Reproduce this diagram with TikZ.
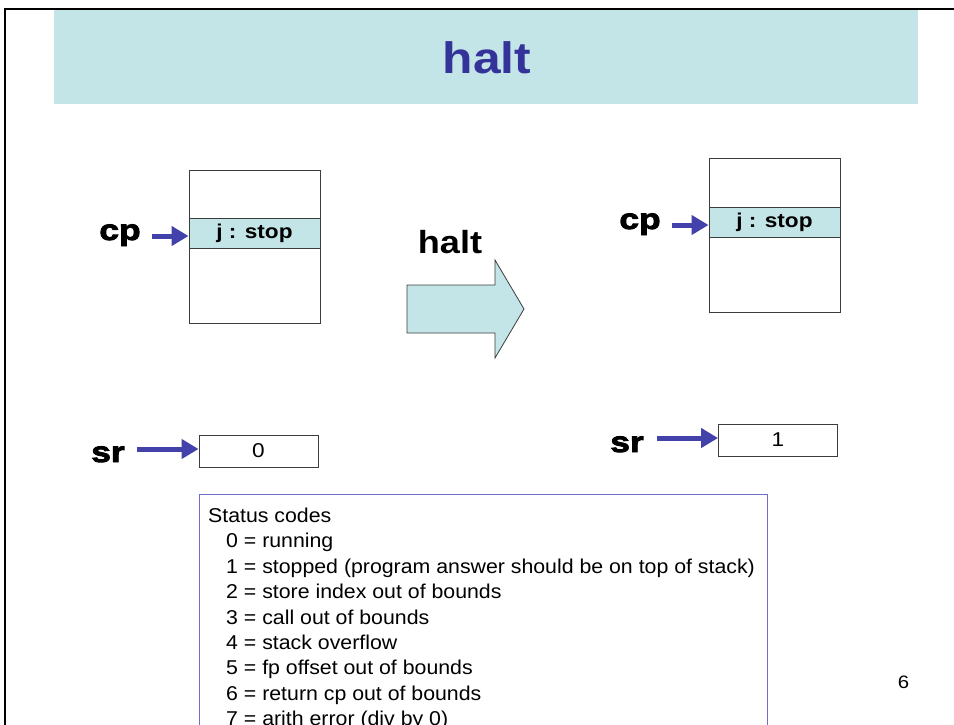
\documentclass[tikz,border=0pt]{standalone}
\usepackage{fontspec}
\setmainfont[FakeStretch=1.13]{Liberation Sans}
\newfontfamily\heavyfont[FakeBold=3, FakeStretch=1.22]{Liberation Sans Bold}
\newfontfamily\codefont[FakeStretch=1.065]{Liberation Sans}
\usetikzlibrary{arrows.meta}

\definecolor{paleteal}{RGB}{196,229,232}
\definecolor{titleblue}{RGB}{51,51,153}
\definecolor{ptrblue}{RGB}{66,66,170}
\definecolor{boxline}{RGB}{110,110,200}
\definecolor{cellgray}{RGB}{60,60,60}

\tikzset{
  cellline/.style={draw=cellgray, line width=0.9pt},
  rowcell/.style={cellline, fill=paleteal, minimum width=131pt, minimum height=30pt,
    inner sep=0pt, font=\fontsize{20}{24}\selectfont\bfseries},
  regbox/.style={cellline, fill=white, minimum width=119pt, minimum height=32pt,
    inner sep=0pt, font=\fontsize{20}{24}\selectfont},
  reglabel/.style={inner sep=0pt, anchor=base, font=\fontsize{29}{34}\selectfont\heavyfont},
  ptr/.style={draw=ptrblue, line width=5pt, -{Triangle[length=17pt,width=19pt]}},
  blockarrow/.style={draw=cellgray, line width=0.8pt, fill=paleteal},
  codeline/.style={anchor=base west, inner sep=0pt, font=\fontsize{20}{24}\selectfont\codefont},
}

\begin{document}
\begin{tikzpicture}[x=1pt,y=-1pt]
  \useasboundingbox (0,0) rectangle (954,724);
  \clip (0,0) rectangle (954,724);

  % slide frame
  \draw[line width=2pt] (5,730) -- (5,9) -- (960,9);

  % title banner
  \fill[paleteal] (54,10) rectangle (918,104);
  \node[anchor=base, inner sep=0pt, text=titleblue,
        font=\fontsize{44}{50}\selectfont\bfseries] (title) at (487,73) {halt};

  % ---- state before ----
  \draw[cellline] (189,170) rectangle (320,323);
  \node[rowcell] (lrow) at (254.5,233) {j : stop};
  \node[reglabel] (lcp) at (120,240) {cp};
  \path (lrow.west) ++(-37,3) coordinate (lcpa);
  \draw[ptr] (lcpa) -- (lrow.west |- lcpa);

  \node[regbox] (lsr) at (258.5,451) {0};
  \node[reglabel] (lsrl) at (108,462) {sr};
  \path (lsr.west) ++(-62,-2) coordinate (lsra);
  \draw[ptr] (lsra) -- (lsr.west |- lsra);

  % ---- transition ----
  \draw[blockarrow] (407,285) -- (495,285) -- (495,260) -- (524,309)
    -- (495,358) -- (495,333) -- (407,333) -- cycle;
  \node[anchor=base, inner sep=0pt, font=\fontsize{32}{38}\selectfont\bfseries]
    (step) at (450,253) {halt};

  % ---- state after ----
  \draw[cellline] (709,158) rectangle (840,312);
  \node[rowcell] (rrow) at (774.5,222) {j : stop};
  \node[reglabel] (rcp) at (640,229) {cp};
  \path (rrow.west) ++(-37,3) coordinate (rcpa);
  \draw[ptr] (rcpa) -- (rrow.west |- rcpa);

  \node[regbox] (rsr) at (778,440) {1};
  \node[reglabel] (rsrl) at (627,452) {sr};
  \path (rsr.west) ++(-61,-2) coordinate (rsra);
  \draw[ptr] (rsra) -- (rsr.west |- rsra);

  % ---- status code legend ----
  \draw[draw=boxline, line width=0.9pt, fill=white] (199,494) rectangle (767,760);
  \node[codeline] (c0) at (208,522.5) {Status codes};
  \node[codeline] (c1) at (226,547.9) {0 = running};
  \node[codeline] (c2) at (226,573.3) {1 = stopped (program answer should be on top of stack)};
  \node[codeline] (c3) at (226,598.7) {2 = store index out of bounds};
  \node[codeline] (c4) at (226,624.1) {3 = call out of bounds};
  \node[codeline] (c5) at (226,649.5) {4 = stack overflow};
  \node[codeline] (c6) at (226,674.9) {5 = fp offset out of bounds};
  \node[codeline] (c7) at (226,700.3) {6 = return cp out of bounds};
  \node[codeline] (c8) at (226,725.7) {7 = arith error (div by 0)};

  % page number
  \node[font=\fontsize{18}{20}\selectfont] (pageno) at (903.5,682.5) {6};
\end{tikzpicture}
\end{document}
